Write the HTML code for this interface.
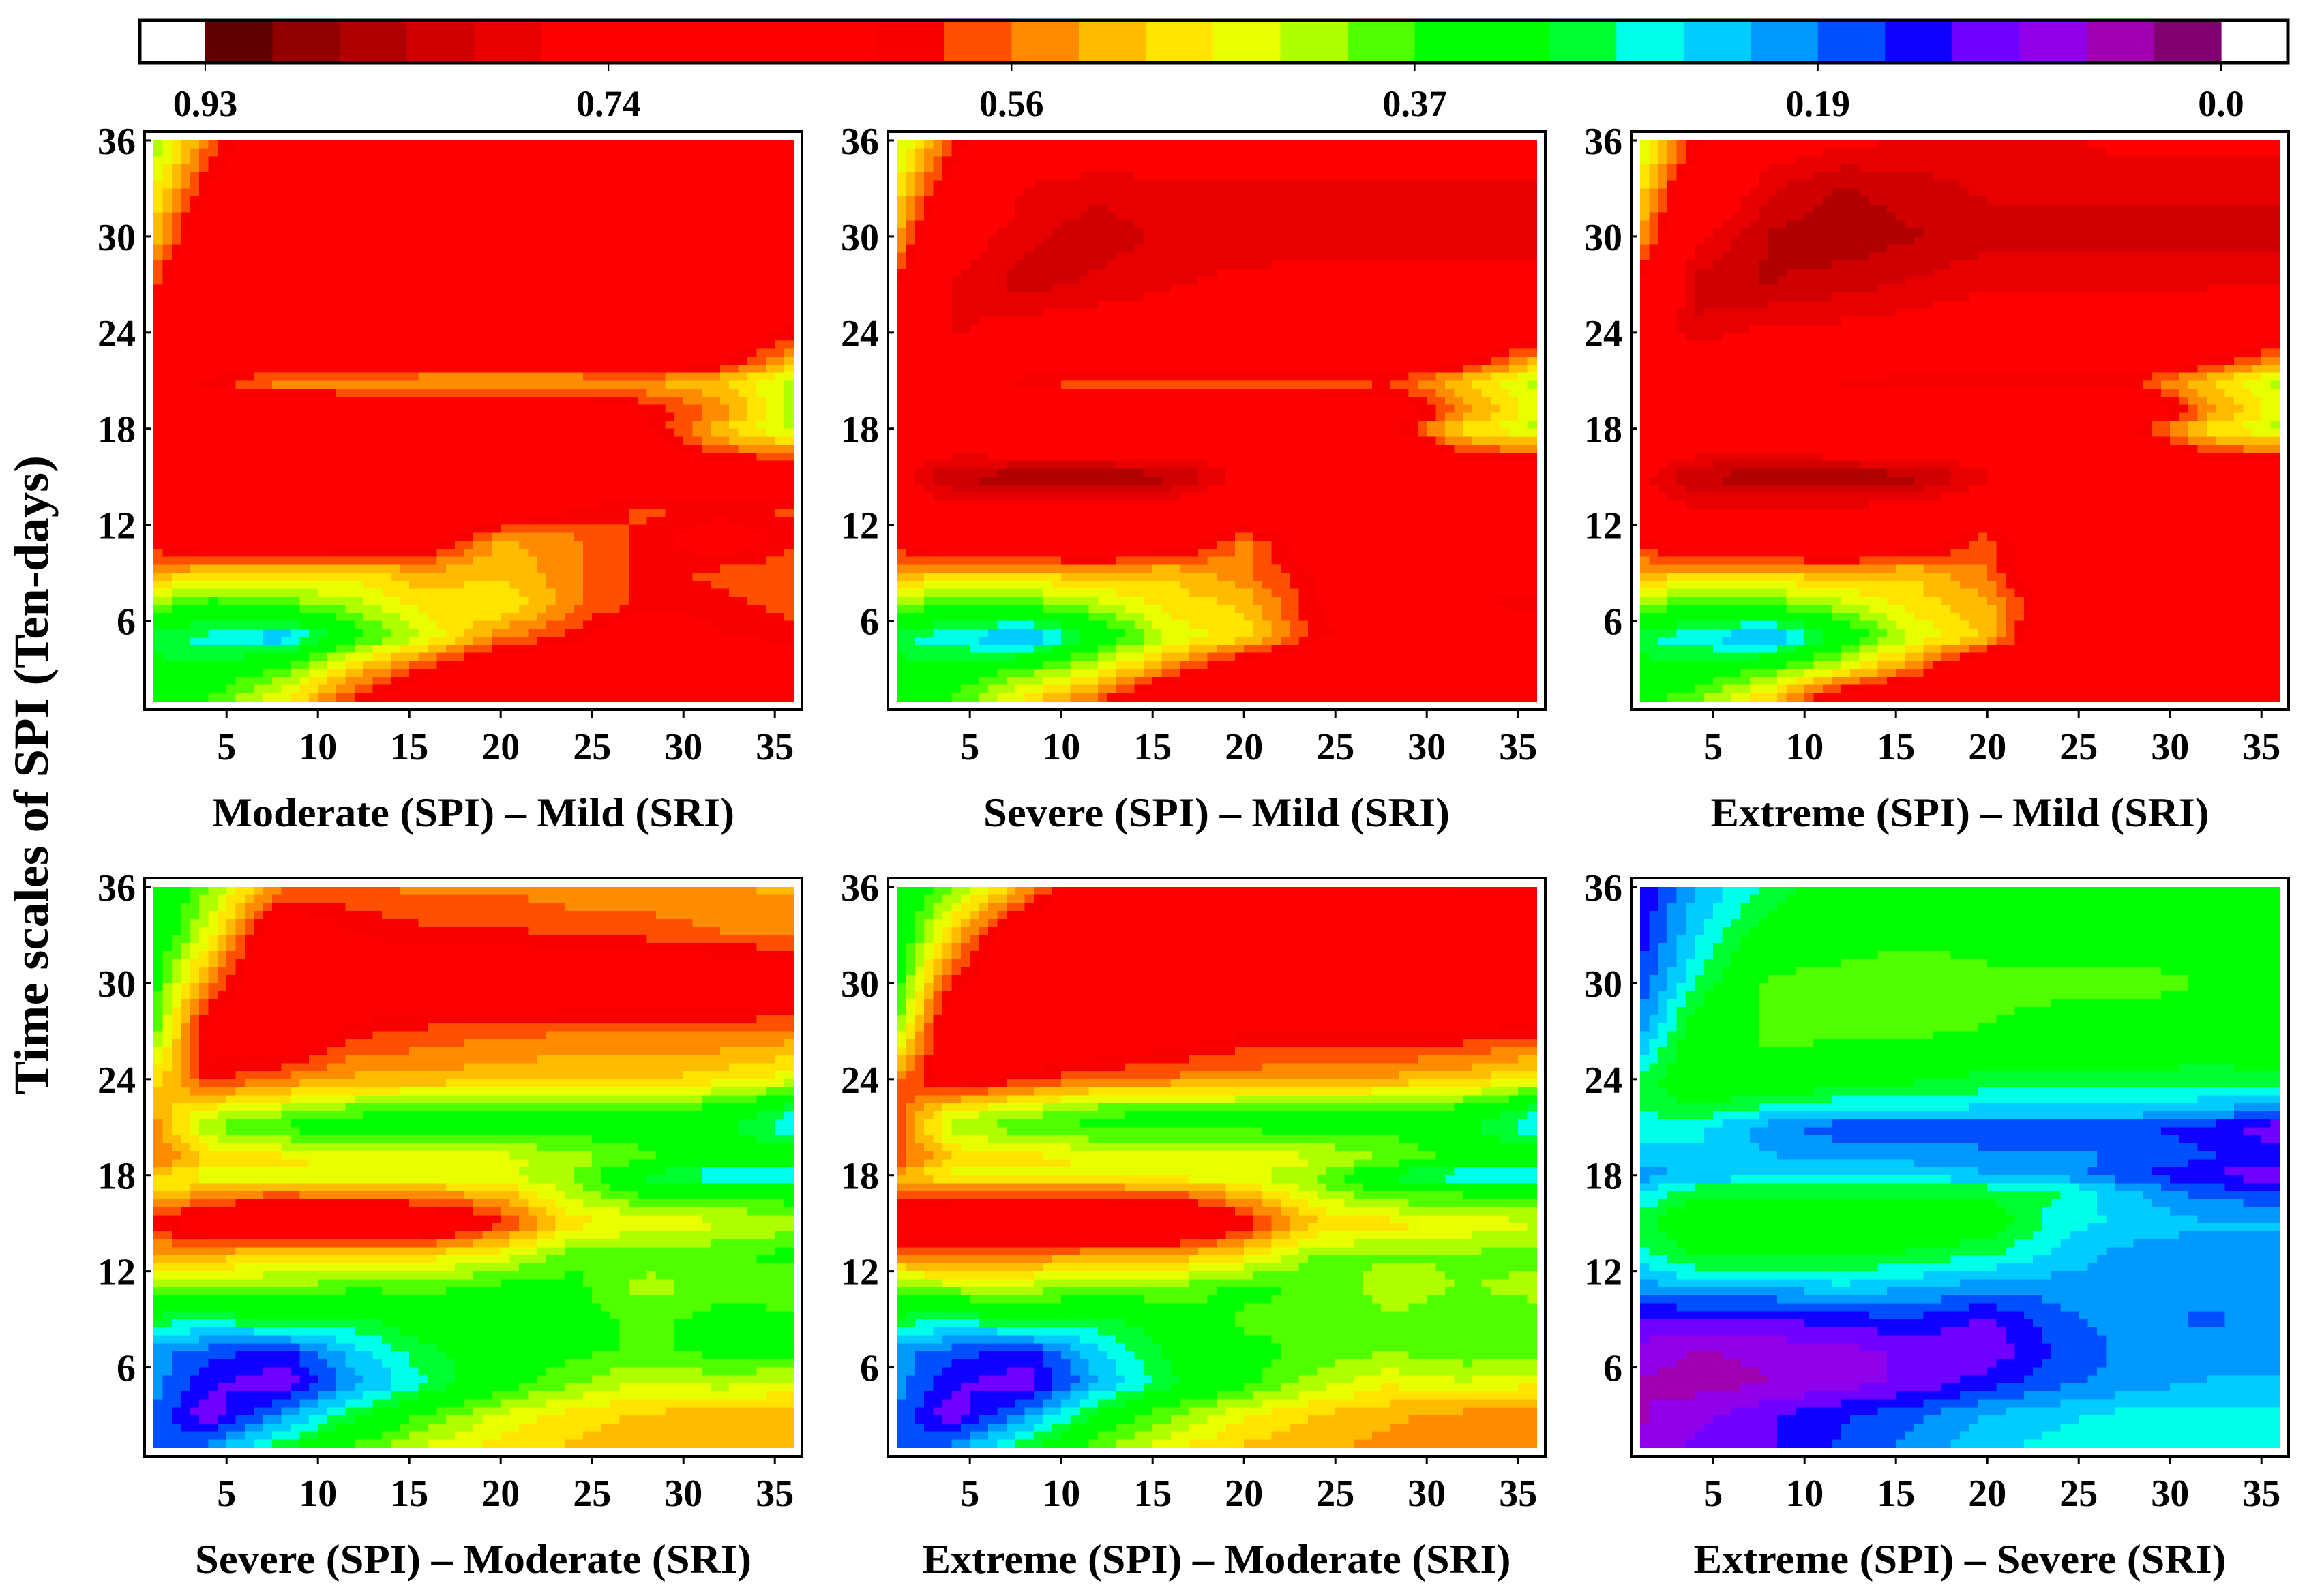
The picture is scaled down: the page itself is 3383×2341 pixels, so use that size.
<!DOCTYPE html>
<html><head><meta charset="utf-8"><title>SPI-SRI propagation probability</title>
<style>
html,body{margin:0;padding:0;background:#fff;}
svg{display:block;font-family:"Liberation Serif",serif;font-weight:bold;}
</style></head>
<body>
<svg id="chart" width="3383" height="2341" viewBox="0 0 3383 2341" xmlns="http://www.w3.org/2000/svg">
<g id="colorbar"></g>
<g id="panels"></g>
<text x="70" y="1137" font-size="72" text-anchor="middle" textLength="938" lengthAdjust="spacingAndGlyphs" transform="rotate(-90 70 1137)">Time scales of SPI (Ten-days)</text>
</svg>
<script>
const xNodes = [1,4,8,12,16,20,24,28,32,36];
const yNodes = [36,33,30,27,24,22,21,19,18,17,15,13,11,9,7,5,3,1];
const xTicks = [5,10,15,20,25,30,35];
const yTicks = [6,12,18,24,30,36];
const cbTickLabels = ["0.93","0.74","0.56","0.37","0.19","0.0"];
const cbColors = ["#600000","#900000","#b00000","#d00000","#e80000","#ff0000","#ff0000","#ff0000","#ff0000","#ff0000","#f80000","#ff5000","#ff8c00","#ffbb00","#ffe400","#e8ff00","#b0ff00","#50ff00","#00ff00","#00ff00","#00ff30","#00ffe8","#00ccff","#0099ff","#0050ff","#1000ff","#7000ff","#9000e8","#a000b0","#800070"];
const titles = ["Moderate (SPI) \u2013 Mild (SRI)","Severe (SPI) \u2013 Mild (SRI)","Extreme (SPI) \u2013 Mild (SRI)","Severe (SPI) \u2013 Moderate (SRI)","Extreme (SPI) \u2013 Moderate (SRI)","Extreme (SPI) \u2013 Severe (SRI)"];
const titleWidths = [766,684,731,816,863,781];

const p1 = [
[.40,.56,.7,.7,.7,.7,.7,.7,.7,.7],
[.46,.62,.7,.72,.72,.72,.72,.7,.7,.7],
[.50,.70,.75,.76,.75,.73,.73,.72,.72,.72],
[.58,.74,.76,.74,.72,.72,.72,.72,.72,.72],
[.7,.72,.72,.72,.72,.72,.72,.72,.7,.6],
[.7,.7,.7,.7,.7,.7,.7,.7,.62,.5],
[.7,.6,.53,.52,.51,.51,.51,.52,.5,.42],
[.7,.7,.7,.7,.7,.7,.7,.62,.55,.42],
[.7,.7,.7,.7,.7,.7,.68,.62,.5,.42],
[.7,.7,.7,.7,.7,.7,.7,.65,.55,.5],
[.7,.74,.74,.74,.72,.72,.72,.7,.7,.7],
[.7,.7,.7,.7,.7,.7,.62,.58,.6,.58],
[.62,.7,.7,.7,.65,.52,.55,.6,.66,.6],
[.52,.5,.5,.48,.52,.5,.55,.6,.58,.56],
[.4,.35,.38,.42,.48,.46,.55,.6,.6,.58],
[.28,.27,.22,.35,.44,.55,.6,.7,.62,.6],
[.33,.32,.38,.5,.6,.7,.7,.7,.7,.7],
[.36,.38,.46,.6,.7,.7,.7,.7,.7,.7]];
const p2 = [
[.42,.58,.7,.72,.74,.74,.74,.74,.74,.74],
[.47,.65,.78,.8,.78,.78,.78,.78,.78,.78],
[.52,.74,.8,.82,.8,.8,.79,.79,.79,.79],
[.6,.78,.82,.8,.78,.76,.76,.76,.76,.76],
[.72,.78,.75,.74,.73,.72,.72,.72,.72,.65],
[.72,.72,.72,.72,.72,.72,.72,.72,.62,.5],
[.72,.72,.58,.56,.56,.56,.56,.58,.5,.42],
[.72,.72,.72,.72,.72,.72,.72,.68,.55,.45],
[.72,.72,.72,.72,.72,.72,.72,.62,.48,.42],
[.74,.74,.72,.72,.72,.72,.72,.68,.55,.52],
[.75,.84,.86,.86,.85,.76,.72,.72,.72,.72],
[.74,.76,.76,.76,.74,.72,.62,.72,.72,.72],
[.62,.72,.72,.72,.68,.55,.68,.72,.72,.72],
[.52,.5,.5,.52,.5,.55,.62,.7,.65,.7],
[.42,.36,.38,.42,.48,.5,.62,.65,.62,.6],
[.28,.26,.2,.32,.44,.48,.6,.7,.7,.7],
[.33,.32,.38,.45,.55,.68,.72,.72,.72,.72],
[.36,.38,.48,.58,.72,.72,.72,.72,.72,.72]];
const p3 = [
[.42,.6,.74,.76,.78,.78,.78,.76,.76,.76],
[.48,.68,.8,.84,.82,.8,.8,.8,.8,.8],
[.52,.76,.84,.86,.84,.82,.82,.82,.82,.82],
[.62,.82,.84,.82,.8,.78,.78,.78,.78,.78],
[.72,.8,.76,.76,.75,.74,.74,.74,.72,.65],
[.72,.72,.72,.72,.72,.72,.72,.72,.6,.52],
[.72,.72,.72,.6,.58,.58,.58,.58,.5,.42],
[.72,.72,.72,.72,.72,.72,.72,.72,.55,.45],
[.72,.72,.72,.72,.72,.72,.72,.6,.48,.42],
[.74,.74,.74,.72,.72,.72,.72,.68,.55,.52],
[.76,.84,.86,.86,.85,.78,.74,.72,.72,.72],
[.74,.77,.77,.77,.75,.73,.72,.72,.72,.72],
[.6,.72,.72,.72,.68,.56,.72,.72,.72,.72],
[.52,.5,.5,.52,.5,.56,.72,.72,.72,.72],
[.42,.36,.38,.42,.48,.52,.66,.72,.72,.72],
[.28,.26,.2,.32,.44,.5,.72,.72,.72,.72],
[.33,.32,.38,.45,.56,.72,.72,.72,.72,.72],
[.36,.4,.5,.68,.72,.72,.72,.72,.72,.72]];
const p4 = [
[.3,.4,.55,.56,.55,.55,.54,.53,.53,.52],
[.32,.45,.7,.62,.6,.6,.58,.58,.56,.55],
[.35,.55,.72,.7,.68,.7,.7,.7,.7,.68],
[.38,.65,.7,.6,.58,.57,.56,.56,.56,.55],
[.48,.6,.55,.52,.52,.5,.5,.5,.48,.45],
[.52,.45,.42,.38,.37,.37,.37,.37,.35,.28],
[.55,.4,.36,.35,.35,.35,.35,.35,.32,.25],
[.56,.5,.48,.46,.46,.45,.42,.38,.35,.35],
[.5,.44,.44,.44,.44,.44,.4,.3,.24,.22],
[.48,.52,.54,.52,.52,.5,.42,.35,.36,.34],
[.6,.68,.72,.72,.7,.6,.48,.46,.44,.42],
[.52,.52,.48,.5,.48,.45,.38,.38,.38,.36],
[.4,.4,.4,.38,.38,.36,.36,.42,.38,.4],
[.3,.28,.32,.3,.34,.36,.36,.38,.36,.36],
[.2,.17,.14,.24,.3,.34,.36,.38,.36,.36],
[.2,.13,.1,.2,.28,.35,.4,.44,.42,.44],
[.18,.1,.2,.3,.38,.44,.48,.5,.52,.52],
[.15,.2,.3,.38,.44,.48,.5,.52,.52,.52]];
const p5 = [
[.3,.4,.52,.7,.72,.72,.7,.68,.6,.6],
[.32,.5,.7,.72,.72,.72,.72,.7,.7,.7],
[.35,.6,.72,.72,.72,.72,.72,.72,.72,.72],
[.4,.7,.72,.7,.66,.62,.62,.62,.62,.6],
[.55,.65,.6,.56,.55,.54,.53,.52,.5,.46],
[.58,.46,.42,.38,.37,.37,.37,.37,.35,.28],
[.58,.42,.38,.36,.36,.36,.36,.36,.32,.25],
[.58,.5,.48,.47,.46,.46,.44,.4,.36,.35],
[.52,.45,.44,.44,.44,.44,.4,.3,.24,.22],
[.55,.56,.57,.56,.55,.5,.42,.36,.36,.34],
[.66,.72,.72,.72,.72,.62,.5,.48,.46,.44],
[.55,.56,.55,.53,.52,.48,.4,.4,.4,.38],
[.4,.42,.42,.4,.4,.36,.38,.42,.4,.42],
[.3,.28,.32,.3,.34,.38,.38,.4,.38,.38],
[.2,.17,.14,.24,.32,.36,.38,.4,.38,.38],
[.2,.13,.1,.22,.3,.36,.42,.46,.44,.46],
[.18,.1,.2,.32,.4,.46,.5,.52,.54,.54],
[.15,.2,.3,.4,.46,.5,.52,.54,.55,.55]];
const p6 = [
[.12,.22,.28,.36,.36,.36,.36,.36,.36,.36],
[.14,.24,.34,.36,.36,.36,.36,.36,.36,.36],
[.16,.28,.38,.38,.4,.38,.38,.38,.37,.37],
[.2,.34,.38,.38,.38,.37,.36,.36,.36,.36],
[.28,.36,.36,.34,.32,.3,.3,.3,.29,.3],
[.28,.3,.26,.24,.24,.24,.24,.24,.22,.18],
[.26,.26,.2,.16,.16,.16,.16,.16,.14,.1],
[.24,.24,.22,.22,.21,.2,.2,.18,.16,.14],
[.2,.22,.24,.24,.24,.22,.2,.16,.12,.1],
[.24,.3,.3,.3,.3,.3,.28,.22,.17,.16],
[.3,.36,.36,.36,.36,.34,.26,.24,.22,.22],
[.26,.32,.32,.32,.3,.28,.24,.2,.2,.2],
[.2,.22,.22,.24,.22,.2,.2,.2,.2,.2],
[.12,.12,.12,.14,.15,.12,.18,.2,.18,.2],
[.08,.06,.07,.08,.1,.1,.16,.2,.2,.2],
[.06,.05,.06,.08,.1,.14,.18,.2,.22,.22],
[.06,.08,.12,.15,.18,.22,.24,.26,.26,.26],
[.06,.1,.12,.16,.2,.24,.26,.28,.28,.28]];
const panelData = [p1,p2,p3,p4,p5,p6];

const NS = "http://www.w3.org/2000/svg";
function mk(tag, attrs, parent){
  const e = document.createElementNS(NS, tag);
  for (const k in attrs) e.setAttribute(k, attrs[k]);
  parent.appendChild(e);
  return e;
}
const VMAX = 0.93, STEP = 0.031;
function colorOf(v){
  let i = Math.floor((VMAX - v)/STEP);
  if (i < 0) i = 0; if (i > 29) i = 29;
  return cbColors[i];
}
function interp(grid, x, y){
  let i = 0; while (i < xNodes.length-2 && x > xNodes[i+1]) i++;
  let j = 0; while (j < yNodes.length-2 && y < yNodes[j+1]) j++;
  const tx = Math.min(1, Math.max(0, (x - xNodes[i])/(xNodes[i+1]-xNodes[i])));
  const ty = Math.min(1, Math.max(0, (yNodes[j] - y)/(yNodes[j] - yNodes[j+1])));
  const a = grid[j][i], b = grid[j][i+1], c = grid[j+1][i], d = grid[j+1][i+1];
  return (a*(1-tx)+b*tx)*(1-ty) + (c*(1-tx)+d*tx)*ty;
}

// colorbar
const cb = document.getElementById('colorbar');
const cbL = 301, cbR = 3257, cbT = 32, cbB = 91;
const segW = (cbR - cbL)/cbColors.length;
const cbFrame = mk('rect',{x:205,y:30,width:3150,height:62,fill:'#fff',stroke:'#000','stroke-width':5},cb);


cbColors.forEach((c,k)=>{
  const r = mk('rect',{x:cbL+k*segW,y:cbT+1,width:segW+0.6,height:cbB-cbT-2,fill:c},cb);
  
  
});
mk('rect',{x:205,y:30,width:3150,height:62,fill:'none',stroke:'#000','stroke-width':5},cb);
cbTickLabels.forEach((t,k)=>{
  const x = cbL + k*6*segW;
  mk('line',{x1:x,y1:92,x2:x,y2:104,stroke:'#000','stroke-width':2},cb);
  const tx = mk('text',{x:x,y:170,'font-size':54,'text-anchor':'middle'},cb);
  tx.textContent = t;
  
  
});

// panels
const panelsG = document.getElementById('panels');
const PW = 938, PH = 822;
const xScale = (L)=> (v)=> L + (v-1)*PW/35;
const yScale = (T)=> (v)=> T + (36-v)*PH/35;
panelData.forEach((grid, p)=>{
  const col = p%3, row = Math.floor(p/3);
  const L = 225 + col*1090, T = 206 + row*1095;
  const sx = xScale(L), sy = yScale(T);
  const g = mk('g',{},panelsG);
  
  
  mk('rect',{x:L-13,y:T-13,width:PW+26,height:PH+26,fill:'#fff',stroke:'#000','stroke-width':4},g);
  const hm = mk('g',{'shape-rendering':'crispEdges'},g);
  
  
  const d = 0.5, n = Math.round(35/d);
  for (let r=0; r<n; r++){
    const y0 = 36 - r*d, y1 = y0 - d, yc = (y0+y1)/2;
    let runStart = 0, runColor = null;
    for (let c=0; c<=n; c++){
      let color = null;
      if (c < n){ const xc = 1 + (c+0.5)*d; color = colorOf(interp(grid, xc, yc)); }
      if (color !== runColor){
        if (runColor !== null){
          const xa = sx(1 + runStart*d), xb = sx(1 + c*d);
          const cell = mk('rect',{x:xa.toFixed(1),y:sy(y0).toFixed(1),width:(xb-xa+0.8).toFixed(1),height:(sy(y1)-sy(y0)+0.8).toFixed(1),fill:runColor},hm);
          
          
        }
        runStart = c; runColor = color;
      }
    }
  }
  yTicks.forEach(t=>{
    mk('line',{x1:L-13,y1:sy(t),x2:L-4,y2:sy(t),stroke:'#000','stroke-width':3},g);
    const tx = mk('text',{x:L-26,y:sy(t)+20,'font-size':56,'text-anchor':'end'},g);
    tx.textContent = t;
    
    
  });
  xTicks.forEach(t=>{
    mk('line',{x1:sx(t),y1:T+PH+13,x2:sx(t),y2:T+PH+25,stroke:'#000','stroke-width':3},g);
    const tx = mk('text',{x:sx(t),y:T+PH+86,'font-size':56,'text-anchor':'middle'},g);
    tx.textContent = t;
    
    
  });
  const tt = mk('text',{x:L+PW/2,y:T+PH+184,'font-size':60,'text-anchor':'middle',textLength:titleWidths[p],lengthAdjust:'spacingAndGlyphs'},g);
  tt.textContent = titles[p];
  
  
});
</script>
</body></html>
